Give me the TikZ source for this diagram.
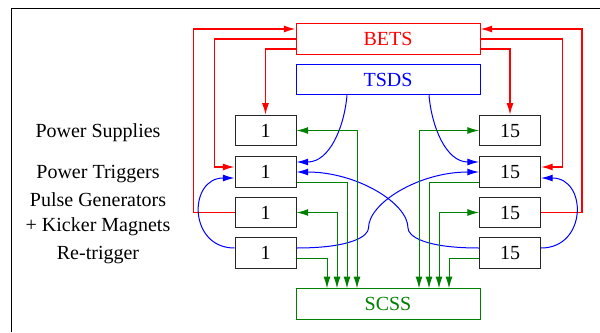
\documentclass[tikz,border=0pt]{standalone}
\usepackage{fontspec}
\setmainfont{Liberation Serif}
\usetikzlibrary{arrows.meta}

\begin{document}
\begin{tikzpicture}[x=0.6pt,y=-0.6pt,font=\fontsize{12}{14}\selectfont,
                    >={Latex[length=7pt,width=4.2pt]}]

      \tikzset{unit/.style={draw=black!85, line width=0.6pt, minimum width=36.6pt, minimum height=18.3pt, inner sep=0pt},
               panel/.style={line width=0.6pt, minimum width=110.4pt, minimum height=18.3pt, inner sep=0pt},
               redline/.style={draw=red, line width=0.8pt, ->},
               blueline/.style={draw=blue, line width=0.6pt, ->},
               greenline/.style={draw=green!50!black, line width=0.6pt, ->}}
      \useasboundingbox (0,0) rectangle (600,332);
      \draw[line width=0.6pt] (11,332) -- (11,8) -- (600,8);
%% Panels
      	\node[panel, draw=red, text=red] (bets) at (388,39) {BETS};
      	\node[panel, draw=blue, text=blue] (tsds) at (388,79.5) {TSDS};
      	\node[panel, draw=green!50!black, text=green!50!black] (scss) at (388,304) {SCSS};
%% Units
      	\node[unit] (l1) at (265.5,130.5) {1};
      	\node[unit] (l2) at (265.5,172) {1};
      	\node[unit] (l3) at (265.5,212.5) {1};
      	\node[unit] (l4) at (265.5,253) {1};
      	\node[unit] (r1) at (510,130.5) {15};
      	\node[unit] (r2) at (510,172) {15};
      	\node[unit] (r3) at (510,212.5) {15};
      	\node[unit] (r4) at (510,253) {15};
%% Row names
      	\node[anchor=base] (psup) at (98,137) {Power Supplies};
      	\node[anchor=base] (ptrig) at (98,178) {Power Triggers};
      	\node[anchor=base] (pgen) at (98,206) {Pulse Generators};
      	\node[anchor=base] (kick) at (98,231) {+ Kicker Magnets};
      	\node[anchor=base] (retrig) at (98,259) {Re-trigger};
      	\coordinate (lkink) at ([xshift=43.2pt,yshift=15pt]l4.east);
      	\coordinate (rkink) at ([xshift=-42.6pt,yshift=15pt]r4.west);
%BETS
		\draw[redline] (l3.west) -- ++(-41,0) |- ([yshift=6pt]bets.west);
		\draw[redline] (bets.west) -- ++(-81,0) |- ([yshift=3pt]l2.west);
		\draw[redline] ([yshift=-6pt]bets.west) -| (l1.north);
		\draw[redline] (r3.east) -- ++(41,0) |- ([yshift=6pt]bets.east);
		\draw[redline] (bets.east) -- ++(82,0) |- ([yshift=3pt]r2.east);
		\draw[redline] ([yshift=-6pt]bets.east) -| (r1.north);
%TSDS and re-trigger
		\draw[blueline] ([xshift=-24.6pt]tsds.south) to[out=-95,in=0] ([yshift=6pt]l2.east);
		\draw[blueline] ([xshift=24.6pt]tsds.south) to[out=-85,in=180] ([yshift=6pt]r2.west);
		\draw[blueline] ([yshift=3pt]l4.west) to[out=180,in=180,looseness=1.7] ([yshift=-3.6pt]l2.west);
		\draw[blueline] ([yshift=3pt]r4.east) to[out=0,in=0,looseness=1.7] ([yshift=-3.6pt]r2.east);
		\draw[blueline] ([yshift=3pt]l4.east) .. controls +(55,0) and +(0,8) .. (lkink) .. controls +(0,-25) and +(-60,0) .. (r2.west);
		\draw[blueline] ([yshift=3pt]r4.west) .. controls +(-55,0) and +(0,8) .. (rkink) .. controls +(0,-25) and +(60,0) .. (l2.east);
%SCSS
		\draw[greenline, <->] (l1.east) -| ([xshift=-18.6pt]scss.north);
		\draw[greenline] ([yshift=-6pt]l2.east) -| ([xshift=-24.6pt]scss.north);
		\draw[greenline, <->] (l3.east) -| ([xshift=-30.6pt]scss.north);
		\draw[greenline] ([yshift=-3pt]l4.east) -| ([xshift=-36.6pt]scss.north);
		\draw[greenline, <->] (r1.west) -| ([xshift=18.6pt]scss.north);
		\draw[greenline] ([yshift=-6pt]r2.west) -| ([xshift=24.6pt]scss.north);
		\draw[greenline, <->] (r3.west) -| ([xshift=30.6pt]scss.north);
		\draw[greenline] ([yshift=-3pt]r4.west) -| ([xshift=36.6pt]scss.north);

	\end{tikzpicture}
\end{document}
